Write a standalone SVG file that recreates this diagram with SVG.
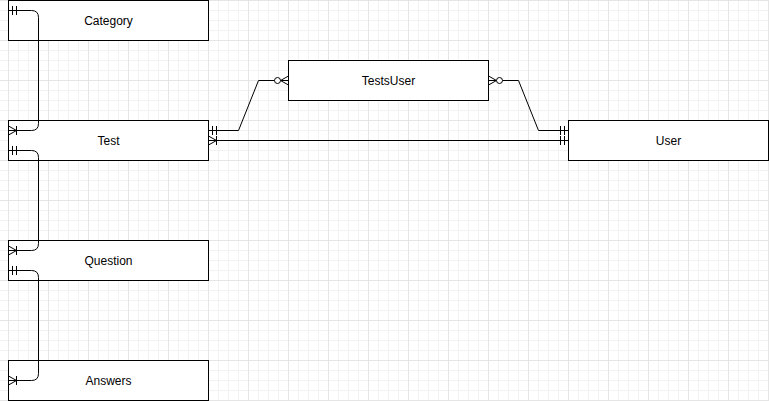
<svg xmlns="http://www.w3.org/2000/svg" xmlns:xlink="http://www.w3.org/1999/xlink" width="769" height="401" viewBox="0 0 769 401">
<style>
.box{fill:#ffffff;stroke:#000000;stroke-width:1}
.lbl{font-family:"Liberation Sans",Arial,Helvetica,sans-serif;font-size:12px;fill:#000000;text-anchor:middle;dominant-baseline:central}
.edge{fill:none;stroke:#000000;stroke-width:1}
.mk{fill:none;stroke:#000000;stroke-width:1}
</style>
<defs>
<pattern id="grid" patternUnits="userSpaceOnUse" x="8" y="0" width="40" height="40">
<path d="M10.5,0V40M20.5,0V40M30.5,0V40M0,10.5H40M0,20.5H40M0,30.5H40" stroke="#f2f2f2" stroke-width="1" fill="none"/>
<path d="M0.5,0V40M0,0.5H40" stroke="#e5e5e5" stroke-width="1" fill="none"/>
</pattern>
<g id="one" class="mk"><path d="M4,-4.5V4.5M8,-4.5V4.5"/></g>
<g id="oneMany" class="mk"><path d="M0,-4.5L8,0L0,4.5M8,-4.5V4.5"/></g>
<g id="zeroMany"><path class="mk" d="M0,-4.5L8,0L0,4.5"/><circle cx="11" cy="0" r="3" fill="#ffffff" stroke="#000000" stroke-width="1"/></g>
</defs>
<rect width="769" height="401" fill="#ffffff"/>
<rect width="769" height="401" fill="url(#grid)"/>
<g transform="translate(0.5,0.5)">
<g id="category"><rect class="box" x="8" y="0" width="200" height="40"/><text class="lbl" x="108" y="20">Category</text></g>
<g id="test"><rect class="box" x="8" y="120" width="200" height="40"/><text class="lbl" x="108" y="140">Test</text></g>
<g id="question"><rect class="box" x="8" y="240" width="200" height="40"/><text class="lbl" x="108" y="260">Question</text></g>
<g id="answers"><rect class="box" x="8" y="360" width="200" height="40"/><text class="lbl" x="108" y="380">Answers</text></g>
<g id="testsuser"><rect class="box" x="288" y="60" width="200" height="40"/><text class="lbl" x="388" y="80">TestsUser</text></g>
<g id="user"><rect class="box" x="568" y="120" width="200" height="40"/><text class="lbl" x="668" y="140">User</text></g>
<g id="connectors">
<path class="edge" d="M8,10H31Q38,10 38,17V123Q38,130 31,130H8"/>
<path class="edge" d="M8,150H31Q38,150 38,157V243Q38,250 31,250H8"/>
<path class="edge" d="M8,270H31Q38,270 38,277V373Q38,380 31,380H8"/>
<path class="edge" d="M208,130H238L258,80H288"/>
<path class="edge" d="M488,80H518L538,130H568"/>
<path class="edge" d="M208,140H568"/>
<use xlink:href="#one" transform="translate(8,10)"/>
<use xlink:href="#oneMany" transform="translate(8,130)"/>
<use xlink:href="#one" transform="translate(8,150)"/>
<use xlink:href="#oneMany" transform="translate(8,250)"/>
<use xlink:href="#one" transform="translate(8,270)"/>
<use xlink:href="#oneMany" transform="translate(8,380)"/>
<use xlink:href="#one" transform="translate(208,130)"/>
<use xlink:href="#zeroMany" transform="translate(288,80) scale(-1,1)"/>
<use xlink:href="#zeroMany" transform="translate(488,80)"/>
<use xlink:href="#one" transform="translate(568,130) scale(-1,1)"/>
<use xlink:href="#oneMany" transform="translate(208,140)"/>
<use xlink:href="#one" transform="translate(568,140) scale(-1,1)"/>
</g>
</g>
</svg>
